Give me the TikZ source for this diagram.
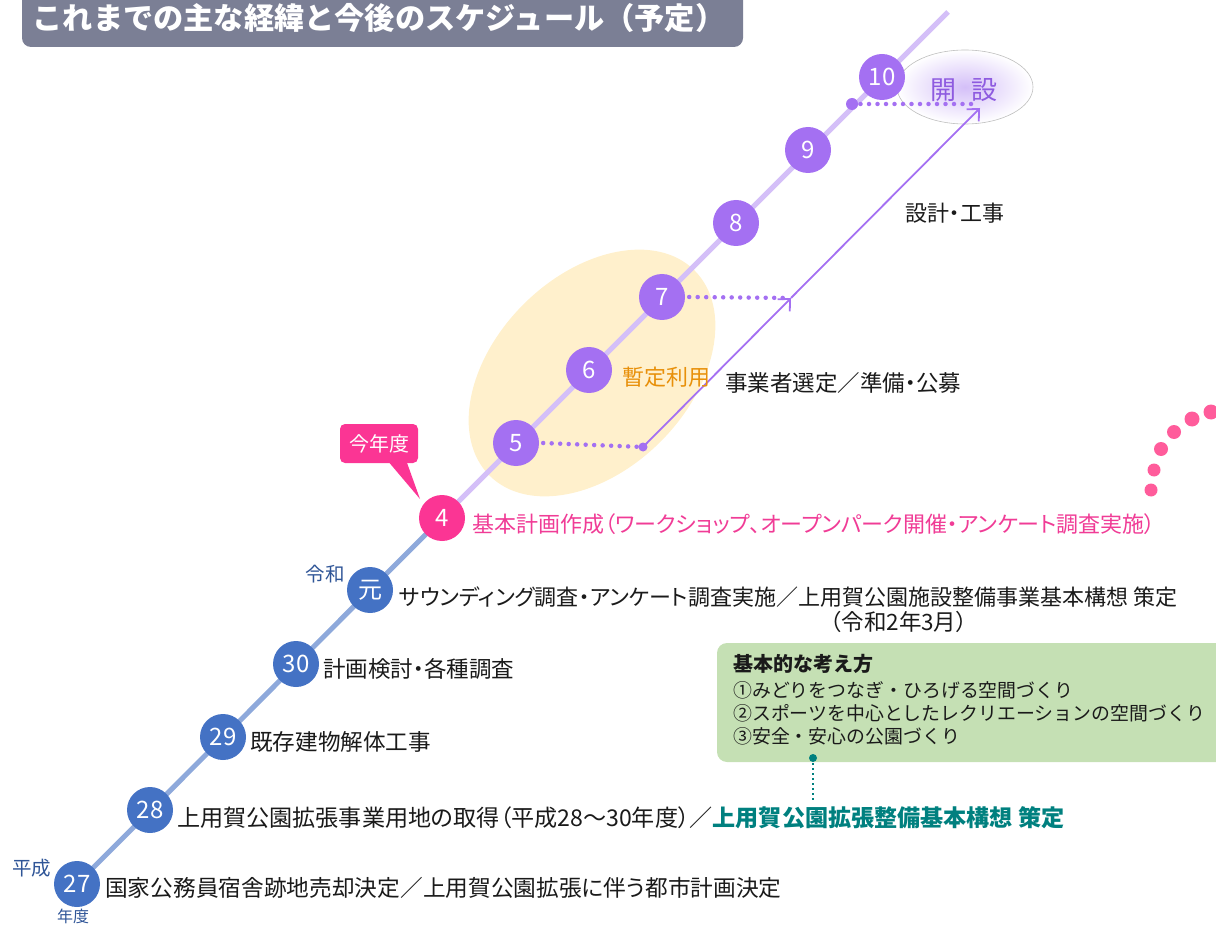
\documentclass[tikz,border=0pt]{standalone}
\usepackage{fontspec}
\setmainfont{Noto Sans CJK JP}
\newfontfamily\jp[RawFeature=+palt]{Noto Sans CJK JP}
\usetikzlibrary{arrows.meta,shapes.geometric}
\definecolor{cblue}{HTML}{4472C4}
\definecolor{cblueline}{HTML}{8EA9DB}
\definecolor{cpur}{HTML}{A470F2}
\definecolor{cpurline}{HTML}{D4BFF8}
\definecolor{cpink}{HTML}{FB3594}
\definecolor{cpinktext}{HTML}{F03C96}
\definecolor{cteal}{HTML}{00807F}
\definecolor{corange}{HTML}{E8900A}
\definecolor{cera}{HTML}{2F5597}
\definecolor{cgreen}{HTML}{C5E0B4}
\definecolor{cyel}{HTML}{FFF0CC}
\definecolor{ctitle}{HTML}{7B7F95}
\definecolor{cdots}{HTML}{FF5C9B}
\definecolor{ckai}{HTML}{8E5BE0}
\definecolor{ctext}{HTML}{1A1A1A}
\begin{document}
\begin{tikzpicture}[x=1pt,y=-1pt,
  yr/.style={circle, minimum size=46pt, inner sep=0pt, text=white, font=\fontsize{24}{24}\selectfont},
  bluec/.style={yr, fill=cblue},
  purc/.style={yr, fill=cpur},
  pinkc/.style={yr, fill=cpink},
  lbl/.style={anchor=west, inner sep=0pt, text=ctext, font=\jp\fontsize{22}{24}\selectfont},
  era/.style={inner sep=0pt, text=cera, font=\fontsize{19.5}{20}\selectfont},
  pdot/.style={draw=cpur, line width=4.5pt, line cap=round, dash pattern=on 0pt off 8.5pt},
  parrow/.style={draw=cpur, line width=1.8pt, -{Straight Barb[length=9pt,width=17pt,line width=1.8pt]}},
  gline/.style={anchor=west, inner sep=0pt, text=ctext, font=\fontsize{18.9}{20}\selectfont}
]
\useasboundingbox (0,0) rectangle (1216,925);
\clip (0,0) rectangle (1216,925);

% title
\fill[ctitle, rounded corners=9pt] (22,-12) rectangle (743,47);
\node[inner sep=0pt, text=white, font=\bfseries\fontsize{30.2}{32}\selectfont] (title) at (379,18) {これまでの主な経緯と今後のスケジュール（予定）};

% yellow ellipse
\node[ellipse, fill=cyel, minimum width=290pt, minimum height=194pt, rotate=45, inner sep=0pt] (yel) at (592,373) {};

% kaisetsu ellipse
\node[ellipse, draw=black!25, line width=0.6pt, inner color=cpurline, outer color=white, minimum width=136pt, minimum height=74pt, inner sep=0pt] (kai) at (965,87) {};
\node[inner sep=0pt, text=ckai, font=\fontsize{26}{26}\selectfont] (kaitext) at (964,90) {開\hspace{0.55em}設};

% coordinates
\coordinate (top) at (948,12);
\coordinate (a0) at (643,447);
\coordinate (amid) at (791,298);
\coordinate (a1) at (980,108);
\coordinate (d10) at (852,104);
\coordinate (d10e) at (978,104);

% main line
\draw[cblueline, line width=5pt] (77,884) -- (442,518);
\draw[cpurline, line width=5pt] (442,518) -- (top);

% arrows
\draw[parrow] (a0) -- (amid);
\draw[parrow] (amid) -- (a1);

% circles
\node[bluec] (c27) at (77,884) {27};
\node[bluec] (c28) at (150,810) {28};
\node[bluec] (c29) at (223,737) {29};
\node[bluec] (c30) at (296,664) {30};
\node[bluec] (cgan) at (370,590) {元};
\node[pinkc] (c4) at (442,518) {4};
\node[purc] (c5) at (516,443) {5};
\node[purc] (c6) at (589,370) {6};
\node[purc] (c7) at (662,297) {7};
\node[purc] (c8) at (736,223) {8};
\node[purc] (c9) at (808,150) {9};
\node[purc] (c10) at (882,77) {10};

% dotted lines
\draw[pdot] ([xshift=4pt]c5.east) -- (a0);
\fill[cpur] (a0) circle (4.5);
\draw[pdot] ([xshift=4pt]c7.east) -- (amid);
\draw[pdot] (d10) -- (d10e);
\fill[cpur] (d10) circle (6);

% era labels
\node[era] (heisei) at (32,868) {平成};
\node[era, font=\fontsize{16}{16}\selectfont] (nendo) at (73,916) {年度};
\node[era] (reiwa) at (325,574) {令和};

% callout
\fill[cpink, rounded corners=5pt] (340,424) rectangle (418,463);
\fill[cpink] (387,460) -- (406,460) -- (420,499) -- cycle;
\node[inner sep=0pt, text=white, font=\fontsize{20}{20}\selectfont] (kon) at (379,444) {今年度};

% labels
\node[lbl, font=\jp\fontsize{22.7}{24}\selectfont] (t27) at (105,888) {国家公務員宿舎跡地売却決定／上用賀公園拡張に伴う都市計画決定};
\node[lbl, font=\jp\fontsize{23.1}{24}\selectfont] (t28) at (177,818) {上用賀公園拡張事業用地の取得（平成28～30年度）／\textcolor{cteal}{\bfseries 上用賀公園拡張整備基本構想 策定}};
\node[lbl, font=\jp\fontsize{22.6}{24}\selectfont] (t29) at (250,742) {既存建物解体工事};
\node[lbl, font=\jp\fontsize{22.5}{24}\selectfont] (t30) at (323,669) {計画検討・各種調査};
\node[lbl] (tgan) at (399,597) {サウンディング調査・アンケート調査実施／上用賀公園施設整備事業基本構想 策定};
\node[inner sep=0pt, text=ctext, font=\jp\fontsize{22.5}{24}\selectfont] (tgan2) at (899,622) {（令和2年3月）};
\node[lbl, text=cpinktext] (t4) at (472,524) {基本計画作成（ワークショップ、オープンパーク開催・アンケート調査実施）};
\node[lbl, text=corange] (tzan) at (622,377) {暫定利用};
\node[lbl, font=\jp\fontsize{22.5}{24}\selectfont] (tjig) at (725,383) {事業者選定／準備・公募};
\node[lbl] (tsek) at (905,213) {設計・工事};

% green box
\fill[cgreen, rounded corners=10pt] (717,643) rectangle (1240,762);
\node[gline, font=\bfseries\fontsize{20}{20}\selectfont] (g0) at (733,664) {基本的な考え方};
\node[gline] (g1) at (733,690) {①みどりをつなぎ・ひろげる空間づくり};
\node[gline] (g2) at (733,713) {②スポーツを中心としたレクリエーションの空間づくり};
\node[gline] (g3) at (733,736) {③安全・安心の公園づくり};
\coordinate (gd) at (813,758);
\coordinate (gd2) at (813,800);
\draw[cteal, line width=2pt, dash pattern=on 2pt off 3pt] (gd) -- (gd2);
\fill[cteal] (gd) circle (4);

% pink dots
\fill[cdots] (1151,490) circle (6.5);
\fill[cdots] (1154,470) circle (6.5);
\fill[cdots] (1161,449) circle (7);
\fill[cdots] (1174,432) circle (7);
\fill[cdots] (1192,419) circle (7.5);
\fill[cdots] (1211,412) circle (7.5);
\end{tikzpicture}
\end{document}
